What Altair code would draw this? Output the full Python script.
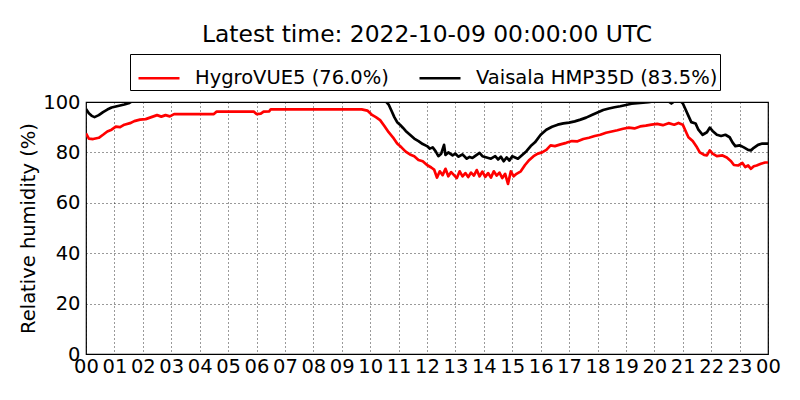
import altair as alt
import pandas as pd

red_hours = [0.0, 0.1, 0.25, 0.45, 0.6, 0.75, 0.9, 1.05, 1.2, 1.35, 1.55, 1.7, 1.9, 2.1, 2.3, 2.5, 2.65, 2.8, 2.95, 3.1,
             4.5, 4.6, 5.9, 6.0, 6.15, 6.25, 6.45, 6.5, 9.7, 9.9, 10.05, 10.2, 10.35, 10.5, 10.65, 10.8, 10.95, 11.1,
             11.25, 11.4, 11.55, 11.7, 11.85, 12.0, 12.15, 12.25, 12.35, 12.45, 12.55, 12.65, 12.75, 12.85, 12.95,
             13.05, 13.15, 13.25, 13.35, 13.45, 13.55, 13.65, 13.75, 13.85, 13.95, 14.05, 14.15, 14.25, 14.35, 14.45,
             14.55, 14.65, 14.75, 14.85, 14.95, 15.05, 15.15, 15.3, 15.45, 15.6, 15.75, 15.9, 16.05, 16.2, 16.35,
             16.5, 16.7, 16.9, 17.1, 17.3, 17.5, 17.7, 17.9, 18.1, 18.3, 18.5, 18.7, 18.9, 19.1, 19.3, 19.5, 19.7,
             19.9, 20.1, 20.3, 20.5, 20.7, 20.85, 21.0, 21.1, 21.2, 21.35, 21.5, 21.6, 21.75, 21.85, 21.95, 22.05,
             22.2, 22.4, 22.55, 22.7, 22.8, 22.95, 23.1, 23.2, 23.3, 23.4, 23.5, 23.6, 23.75, 23.9, 24.0]
red_values = [87.5, 85.5, 85.3, 85.8, 87.0, 88.3, 89.0, 90.2, 90.0, 91.0, 91.6, 92.4, 93.0, 93.2, 94.0, 94.8, 94.2, 94.8, 94.3, 95.2,
              95.2, 96.2, 96.2, 95.2, 95.4, 96.2, 96.3, 97.1, 97.1, 96.6, 95.0, 94.0, 92.8, 90.5, 88.0, 86.0, 83.5, 82.0,
              80.3, 79.2, 78.5, 77.0, 76.5, 75.0, 74.0, 73.2, 70.0, 72.5, 71.0, 73.5, 70.5, 72.2, 71.0,
              69.8, 72.5, 70.5, 71.8, 70.2, 72.0, 70.8, 73.0, 70.5, 72.4, 70.3, 71.8, 70.0, 72.5, 70.8,
              72.0, 69.8, 71.5, 67.5, 72.5, 70.5, 71.5, 72.5, 75.0, 77.0, 78.5, 79.5, 80.0, 81.0, 82.8,
              82.5, 83.2, 83.8, 84.5, 84.4, 85.3, 85.8, 86.5, 87.0, 87.8, 88.3, 88.8, 89.4, 89.8, 89.5, 90.3, 90.6,
              91.0, 91.3, 90.8, 91.6, 91.0, 91.7, 91.0, 88.5, 86.0, 84.5, 82.0, 80.0, 79.0, 78.8, 80.8, 79.5,
              78.5, 78.8, 78.0, 76.5, 75.0, 74.8, 75.8, 74.2, 74.8, 73.5, 74.5, 74.8, 75.5, 76.0, 76.0]

black_hours = [0.0, 0.1, 0.2, 0.3, 0.45, 0.6, 0.75, 0.9, 1.05, 1.2, 1.35, 1.5, 1.6, 1.8, 3.0, 6.0, 9.0, 10.4, 10.55,
               10.65, 10.75, 10.85, 10.95, 11.05, 11.15, 11.25, 11.4, 11.55, 11.7, 11.85, 12.0, 12.1, 12.2, 12.3, 12.4,
               12.5, 12.6, 12.65, 12.75, 12.9, 13.0, 13.1, 13.25, 13.4, 13.5, 13.6, 13.75, 13.85, 13.95, 14.1, 14.25,
               14.4, 14.5, 14.6, 14.7, 14.8, 14.9, 15.0, 15.1, 15.2, 15.35, 15.5, 15.65, 15.8, 16.0, 16.2, 16.4, 16.6,
               16.8, 17.0, 17.2, 17.4, 17.6, 17.8, 18.0, 18.2, 18.4, 18.6, 18.8, 19.0, 19.2, 19.4, 19.6, 19.8, 20.0,
               20.3, 20.5, 20.6, 20.7, 20.9, 21.0, 21.1, 21.2, 21.3, 21.45, 21.55, 21.7, 21.85, 21.95, 22.05, 22.2,
               22.35, 22.5, 22.65, 22.75, 22.85, 23.0, 23.15, 23.3, 23.4, 23.5, 23.65, 23.8, 24.0]
black_values = [97.2, 95.5, 94.5, 94.0, 94.8, 96.0, 97.0, 97.8, 98.2, 98.6, 99.0, 99.5, 100.2, 101.5, 102.5, 103.0, 103.0, 101.5, 100.3,
                99.0, 96.5, 94.0, 92.0, 91.0, 89.8, 88.5, 87.0, 85.5, 84.5, 83.3, 82.5, 81.5, 82.0, 80.5, 78.5,
                79.5, 83.0, 79.0, 80.0, 78.8, 79.5, 78.3, 79.2, 77.5, 78.2, 77.8, 79.0, 79.8, 78.5, 78.0, 77.5,
                78.5, 77.2, 78.3, 76.5, 78.0, 76.8, 78.5, 78.0, 77.5, 79.0, 80.5, 82.5, 84.0, 87.0, 89.0, 90.2, 91.0,
                91.5, 91.8, 92.3, 93.0, 93.8, 94.8, 95.8, 96.8, 97.4, 97.9, 98.3, 98.8, 99.3, 99.5, 99.7, 99.9, 100.3,
                100.5, 100.2, 99.4, 100.2, 100.5, 99.5, 97.0, 94.5, 92.0, 91.5, 89.0, 87.0, 88.0, 89.8, 88.5, 87.0,
                86.5, 87.0, 86.0, 84.0, 82.5, 82.8, 82.0, 81.0, 80.8, 81.8, 83.0, 83.5, 83.5]

series_names = ["HygroVUE5 (76.0%)", "Vaisala HMP35D (83.5%)"]
series_colors = ["#ff0000", "#000000"]
hour_ticks = list(range(25))
rh_ticks = [0, 20, 40, 60, 80, 100]

df = pd.concat([
    pd.DataFrame({"hour": red_hours, "rh": red_values, "sensor": series_names[0], "order": 0}),
    pd.DataFrame({"hour": black_hours, "rh": black_values, "sensor": series_names[1], "order": 1}),
])

FONT = "DejaVu Sans"

chart = alt.Chart(df).mark_line(clip=True, strokeWidth=2.7, strokeJoin="round").encode(
    x=alt.X("hour:Q", scale=alt.Scale(domain=[0, 24], nice=False, zero=False),
            axis=alt.Axis(values=hour_ticks, title=None, ticks=False, domain=False,
                          labelExpr="datum.value % 24 < 10 ? '0' + (datum.value % 24) : '' + datum.value",
                          labelFontSize=19.5, labelPadding=3, labelColor="black", labelFont=FONT,
                          labelFlush=False, labelOverlap=False)),
    y=alt.Y("rh:Q", scale=alt.Scale(domain=[0, 100], nice=False),
            axis=alt.Axis(values=rh_ticks, title="Relative humidity (%)", ticks=False, domain=False,
                          labelFontSize=19.5, labelPadding=6, labelColor="black", labelFont=FONT,
                          titleFontSize=19.5, titleFont=FONT, titleFontWeight="normal", titleColor="black",
                          titlePadding=4, labelFlush=False)),
    color=alt.Color("sensor:N", scale=alt.Scale(domain=series_names, range=series_colors),
                    legend=alt.Legend(title=None, orient="none", legendX=44, legendY=-48,
                                      direction="horizontal", columns=2, columnPadding=24,
                                      symbolType="stroke", symbolSize=1681, symbolStrokeWidth=2.7,
                                      symbolOffset=5,
                                      labelFontSize=19.5, labelFont=FONT, labelColor="black",
                                      labelOffset=14, labelLimit=400,
                                      strokeColor="black", padding=2, cornerRadius=0,
                                      fillColor="white")),
    order="order:Q",
    detail="sensor:N",
).properties(
    width=682, height=252,
    title=alt.TitleParams("Latest time: 2022-10-09 00:00:00 UTC", font=FONT, fontSize=23.4,
                          fontWeight="normal", color="black", anchor="middle", frame="group", offset=6),
    padding={"left": 78, "top": 94, "right": 24, "bottom": 30},
    autosize=alt.AutoSizeParams(type="none"),
).configure_view(
    stroke="black", strokeWidth=1.2
).configure_axis(
    grid=True, gridColor="black", gridDash=[1, 3], gridWidth=0.8, gridOpacity=1
)

chart.save("out.html", embed_options={"renderer": "svg", "actions": False})
